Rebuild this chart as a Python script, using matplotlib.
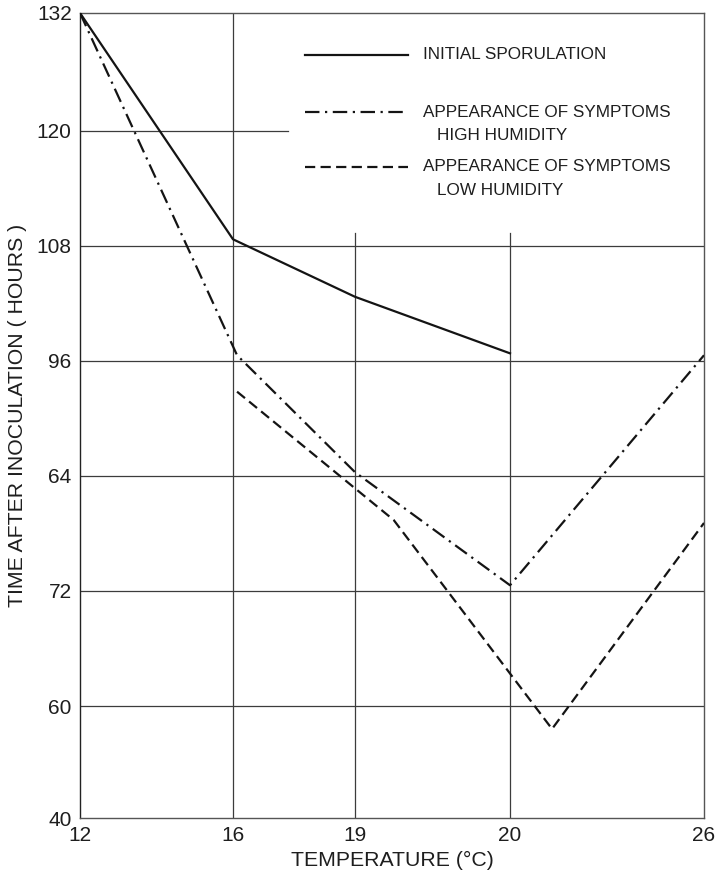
import numpy as np
import matplotlib
matplotlib.use('Agg')
import matplotlib.pyplot as plt

plt.rcParams['font.family'] = ['Liberation Sans', 'DejaVu Sans']

# data
temp_ticks = [12, 16, 19, 20, 26]
hour_ticks = [40, 60, 72, 84, 96, 108, 120, 132]
hour_labels = ['40', '60', '72', '64', '96', '108', '120', '132']

spor_t = [12, 16, 19, 20]
spor_h = [132, 108.7, 102.7, 96.8]

high_t = [12, 16.1, 19, 20, 26]
high_h = [132, 96.6, 84.4, 72.6, 96.6]

low_t = [16.1, 19.25, 21.3, 26]
low_h = [92.8, 79.4, 55.9, 79.1]

# the printed axes are not linear, so map them piecewise
x_pos = [0, 153, 275, 430, 624]
y_pos = [0, 112, 227, 342, 457, 572, 687, 805]

def fx(v):
    return np.interp(v, temp_ticks, x_pos)

def fx_inv(p):
    return np.interp(p, x_pos, temp_ticks)

def fy(v):
    return np.interp(v, hour_ticks, y_pos)

def fy_inv(p):
    return np.interp(p, y_pos, hour_ticks)

fig = plt.figure(figsize=(7.18, 8.75), dpi=100)
ax = fig.add_axes([80/718, 57/875, 624/718, 805/875])
ax.set_xscale('function', functions=(fx, fx_inv))
ax.set_yscale('function', functions=(fy, fy_inv))
ax.set_xlim(12, 26)
ax.set_ylim(40, 132)

grid_c = '#3c3c3c'
# grid lines (partly hidden behind the key area)
for h in [60, 72, 84, 96, 108]:
    ax.plot([12, 26], [h, h], color=grid_c, lw=0.9, zorder=1)
ax.plot([12, 17.35], [120, 120], color=grid_c, lw=0.9, zorder=1)
ax.plot([16, 16], [40, 132], color=grid_c, lw=0.9, zorder=1)
for t in [19, 20]:
    ax.plot([t, t], [40, 109.4], color=grid_c, lw=0.9, zorder=1)

line_c = '#141414'
dashdot = (0, (6.5, 2.5, 1, 2.5))
dashed = (0, (4.6, 2.4))
ax.plot(spor_t, spor_h, color=line_c, lw=1.6, zorder=3)
ax.plot(high_t, high_h, color=line_c, lw=1.6, linestyle=dashdot, zorder=3)
ax.plot(low_t, low_h, color=line_c, lw=1.6, linestyle=dashed, zorder=3)

ax.set_xticks(temp_ticks)
ax.set_xticklabels([str(t) for t in temp_ticks])
ax.set_yticks(hour_ticks)
ax.set_yticklabels(hour_labels)
ax.minorticks_off()
ax.tick_params(length=0, labelsize=15, colors='#1e1e1e')
ax.tick_params(axis='x', pad=6)
ax.tick_params(axis='y', pad=6)

for side in ['top', 'right', 'bottom']:
    ax.spines[side].set_color('#555555')
    ax.spines[side].set_linewidth(1.0)
ax.spines['left'].set_color('#222222')
ax.spines['left'].set_linewidth(1.0)

ax.set_xlabel('TEMPERATURE (°C)', fontsize=15.3, color='#1e1e1e', labelpad=4)
ax.set_ylabel('TIME AFTER INOCULATION ( HOURS )', fontsize=15.3, color='#1e1e1e', labelpad=7)

# key drawn by hand
tr = ax.transAxes
kx0, kx1, tx, tx2 = 0.361, 0.526, 0.550, 0.572
kfs = 12.3
ax.plot([kx0, kx1], [0.948, 0.948], transform=tr, color=line_c, lw=1.6)
ax.text(tx, 0.948, 'INITIAL SPORULATION', transform=tr, fontsize=kfs, va='center', color='#1e1e1e')
ax.plot([kx0, kx1], [0.877, 0.877], transform=tr, color=line_c, lw=1.6, linestyle=dashdot)
ax.text(tx, 0.877, 'APPEARANCE OF SYMPTOMS', transform=tr, fontsize=kfs, va='center', color='#1e1e1e')
ax.text(tx2, 0.848, 'HIGH HUMIDITY', transform=tr, fontsize=kfs, va='center', color='#1e1e1e')
ax.plot([kx0, kx1], [0.809, 0.809], transform=tr, color=line_c, lw=1.6, linestyle=dashed)
ax.text(tx, 0.809, 'APPEARANCE OF SYMPTOMS', transform=tr, fontsize=kfs, va='center', color='#1e1e1e')
ax.text(tx2, 0.780, 'LOW HUMIDITY', transform=tr, fontsize=kfs, va='center', color='#1e1e1e')

fig.savefig('out.png', dpi=100)
